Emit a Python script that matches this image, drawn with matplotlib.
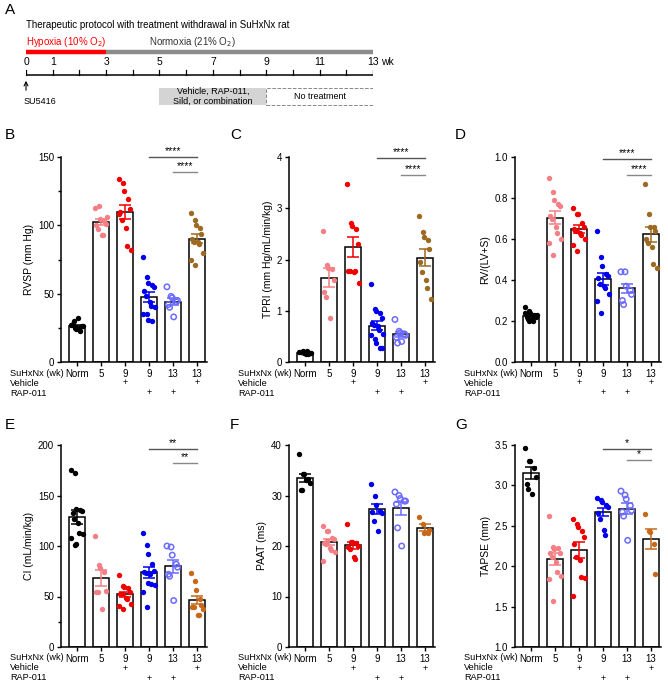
import numpy as np
import matplotlib
matplotlib.use("Agg")
import matplotlib.pyplot as plt
from matplotlib.patches import Rectangle
from matplotlib.transforms import blended_transform_factory, offset_copy

plt.rcParams["font.family"] = ["Liberation Sans", "DejaVu Sans"]
plt.rcParams["font.size"] = 7

groups = ["Norm", "5", "9", "9", "13", "13"]
vehicle = ["", "", "+", "", "", "+"]
rap011 = ["", "", "", "+", "+", ""]

rvsp = [
    [27, 25, 24, 23, 26, 28, 30, 32, 24, 26],
    [113, 114, 105, 103, 101, 100, 97, 93, 93, 106],
    [134, 131, 125, 119, 112, 110, 104, 98, 85, 82, 108],
    [77, 62, 58, 56, 55, 52, 48, 44, 41, 40, 35, 35, 31, 30],
    [55, 48, 47, 44, 45, 42, 40, 33],
    [109, 104, 100, 98, 94, 90, 88, 88, 86, 80, 75, 71],
]
tpri = [
    [0.20, 0.22, 0.18, 0.15, 0.17, 0.20, 0.19, 0.16, 0.21, 0.17],
    [2.55, 1.90, 1.83, 1.82, 1.60, 1.36, 1.27, 0.85],
    [3.47, 2.72, 2.65, 2.59, 2.31, 1.78, 1.77, 1.76, 1.77, 1.54],
    [1.53, 1.03, 1.00, 0.96, 0.85, 0.76, 0.72, 0.70, 0.63, 0.55, 0.52, 0.45, 0.38, 0.28, 0.28],
    [0.83, 0.60, 0.57, 0.55, 0.52, 0.48, 0.37, 0.40],
    [2.85, 2.53, 2.44, 2.38, 2.20, 1.95, 1.76, 1.60, 1.44, 1.22],
]
rv_ratio = [
    [0.27, 0.25, 0.24, 0.23, 0.22, 0.22, 0.21, 0.21, 0.20, 0.23, 0.24, 0.20],
    [0.90, 0.83, 0.79, 0.77, 0.76, 0.71, 0.70, 0.66, 0.63, 0.60, 0.58, 0.52],
    [0.75, 0.72, 0.72, 0.68, 0.66, 0.65, 0.64, 0.63, 0.62, 0.60, 0.57, 0.54],
    [0.64, 0.51, 0.47, 0.43, 0.42, 0.41, 0.38, 0.37, 0.36, 0.33, 0.30, 0.24],
    [0.44, 0.44, 0.37, 0.35, 0.33, 0.30, 0.28],
    [0.87, 0.72, 0.66, 0.66, 0.64, 0.60, 0.58, 0.56, 0.48, 0.46],
]
ci = [
    [175, 172, 137, 136, 135, 133, 127, 123, 113, 112, 108, 101, 102],
    [110, 81, 78, 74, 55, 54, 54, 38],
    [71, 60, 59, 58, 54, 52, 52, 49, 48, 43, 41, 38],
    [113, 101, 92, 82, 75, 74, 73, 72, 62, 61, 54, 40, 63],
    [100, 99, 91, 82, 79, 72, 70, 46],
    [73, 65, 56, 48, 42, 40, 40, 32, 32, 38],
]
paat = [
    [38.2, 34.3, 34.3, 33.3, 32.4, 31.1, 31.1, 33.0],
    [24.0, 22.9, 22.9, 21.6, 21.3, 20.6, 20.4, 19.6, 19.2, 18.8, 17.0, 21.0],
    [24.4, 20.8, 20.7, 20.6, 20.0, 19.8, 19.5, 17.9, 17.5],
    [32.2, 30.0, 28.2, 27.0, 26.5, 26.8, 25.0, 22.9],
    [30.7, 30.0, 29.4, 28.9, 28.9, 28.3, 23.6, 20.0],
    [25.8, 24.3, 22.6, 22.5, 23.1],
]
tapse = [
    [3.46, 3.30, 3.30, 3.21, 3.10, 3.02, 2.95, 2.89],
    [2.62, 2.24, 2.21, 2.23, 2.16, 2.16, 2.12, 2.05, 1.93, 1.88, 1.84, 1.57],
    [2.59, 2.52, 2.48, 2.44, 2.36, 2.28, 2.12, 2.08, 1.87, 1.85, 1.63],
    [2.84, 2.82, 2.80, 2.76, 2.73, 2.66, 2.58, 2.45, 2.39],
    [2.93, 2.88, 2.83, 2.75, 2.69, 2.67, 2.62, 2.32],
    [2.64, 2.44, 2.42, 2.27, 1.90],
]

colors_top = ["black", "#f47f84", "#f00000", "#0000ee", "#6b6bff", "#9c6a22"]
colors_bot = ["black", "#f47f84", "#f00000", "#0000ee", "#6b6bff", "#c8681a"]

fig = plt.figure(figsize=(6.68, 6.92), dpi=100)

# ---- panel A: timeline (y data = 115 - pixel row)
axA = fig.add_axes([26 / 668, 1 - 115 / 692, 347 / 668, 100 / 692])
axA.set_xlim(0, 13)
axA.set_ylim(0, 100)
axA.axis("off")
axA.text(0, 90, "Therapeutic protocol with treatment withdrawal in SuHxNx rat", fontsize=7, va="center")
axA.text(0, 73, "Hypoxia (10% O$_2$)", color="red", fontsize=7, va="center")
axA.text(4.6, 73, "Normoxia (21% O$_2$)", color="#333333", fontsize=7, va="center")
axA.plot([0, 3], [63, 63], color="red", lw=3.2, solid_capstyle="butt")
axA.plot([3, 13], [63, 63], color="#8c8c8c", lw=3.2, solid_capstyle="butt")
axA.plot([0, 13], [40, 40], color="black", lw=1.1)
for wk in range(14):
    axA.plot([wk, wk], [40, 45], color="black", lw=0.9)
for wk in [0, 1, 3, 5, 7, 9, 11, 13]:
    axA.text(wk, 53, str(wk), ha="center", va="center", fontsize=7.5)
axA.text(13.3, 53, "wk", ha="left", va="center", fontsize=7.5)
axA.annotate("", xy=(0, 37), xytext=(0, 22), arrowprops=dict(arrowstyle="->", lw=0.8))
axA.text(-0.1, 14, "SU5416", fontsize=6.5, va="center")
axA.add_patch(Rectangle((5, 10), 4, 17, facecolor="#d4d4d4", edgecolor="none"))
axA.text(7, 18.5, "Vehicle, RAP-011,\nSild, or combination", ha="center", va="center", fontsize=6.5)
axA.add_patch(Rectangle((9, 10), 4, 17, facecolor="none", edgecolor="#888888", ls="--", lw=0.7))
axA.text(11, 18.5, "No treatment", ha="center", va="center", fontsize=6.5)
fig.text(5 / 668, 1 - 10 / 692, "A", fontsize=11, va="center")


def jitter(n):
    offs = []
    for i in range(n):
        k = (i % 5) - 2
        offs.append(k * 0.11 + (0.03 if i % 2 else -0.03))
    return np.array(offs)


def bar_panel(rect, data, cols, ylim, yticks, minor, ylabel, sig, letter, lpos):
    ax = fig.add_axes(rect)
    x = np.arange(len(data))
    means = [np.mean(d) for d in data]
    sems = [np.std(d, ddof=1) / np.sqrt(len(d)) for d in data]
    ax.bar(x, np.array(means) - ylim[0], bottom=ylim[0], width=0.66, facecolor="white",
           edgecolor="black", lw=1.1, zorder=1)
    for i, d in enumerate(data):
        xs = x[i] + jitter(len(d))
        if i == 4:
            ax.scatter(xs, d, s=15, facecolors="none", edgecolors=cols[i], lw=1.1, zorder=3)
        else:
            ax.scatter(xs, d, s=15, color=cols[i], lw=0, zorder=3)
        ax.errorbar(x[i], means[i], yerr=sems[i], color=cols[i], capsize=4, lw=1.1,
                    capthick=1.1, zorder=4)
    ax.set_xlim(-0.67, 5.42)
    ax.set_ylim(*ylim)
    ax.set_yticks(yticks)
    ax.set_yticks(minor, minor=True)
    ax.set_xticks(x)
    ax.set_xticklabels(groups)
    ax.tick_params(axis="both", length=3, width=1, pad=2, labelsize=7)
    ax.tick_params(axis="y", which="minor", length=2.5, width=1)
    for s in ["top", "right"]:
        ax.spines[s].set_visible(False)
    for s in ["left", "bottom"]:
        ax.spines[s].set_linewidth(1.1)
    ax.set_ylabel(ylabel, fontsize=7.5, labelpad=3)
    tr = blended_transform_factory(ax.transData, ax.transAxes)
    trl = ax.transAxes
    for txt, dy in [("SuHxNx (wk)", -11), ("Vehicle", -21), ("RAP-011", -31)]:
        ax.text(-0.35, 0, txt, transform=offset_copy(trl, fig=fig, y=dy, units="dots"),
                ha="left", va="center", fontsize=6.6)
    for i in range(len(x)):
        if vehicle[i]:
            ax.text(x[i], 0, vehicle[i], transform=offset_copy(tr, fig=fig, y=-21, units="dots"),
                    ha="center", va="center", fontsize=6.5)
        if rap011[i]:
            ax.text(x[i], 0, rap011[i], transform=offset_copy(tr, fig=fig, y=-31, units="dots"),
                    ha="center", va="center", fontsize=6.5)
    stars, y1, y2 = sig
    if stars:
        ax.plot([3, 5], [y1, y1], color="#555555", lw=1, clip_on=False)
        ax.plot([4, 5], [y2, y2], color="#888888", lw=1, clip_on=False)
        dy = (ylim[1] - ylim[0]) * 0.005
        ax.text(4, y1 + dy, stars, ha="center", va="bottom", fontsize=7.5)
        ax.text(4.5, y2 + dy, stars, ha="center", va="bottom", fontsize=7.5)
    fig.text(lpos[0] / 668, 1 - lpos[1] / 692, letter, fontsize=11, va="center")
    return ax


top_b, top_h = 1 - 362 / 692, 205 / 692
bot_b, bot_h = 1 - 647 / 692, 202 / 692
w = 146 / 668

bar_panel([61 / 668, top_b, w, top_h], rvsp, colors_top, (0, 150), [0, 50, 100, 150],
          [25, 75, 125], "RVSP (mm Hg)", ("****", 150, 139), "B", (5, 135))
bar_panel([289 / 668, top_b, w, top_h], tpri, colors_top, (0, 4), [0, 1, 2, 3, 4],
          [], "TPRI (mm Hg/mL/min/kg)", ("****", 3.98, 3.65), "C", (230, 135))
bar_panel([515 / 668, top_b, w, top_h], rv_ratio, colors_top, (0, 1.0),
          [0, 0.2, 0.4, 0.6, 0.8, 1.0], [], "RV/(LV+S)", ("****", 0.99, 0.91), "D", (455, 135))
bar_panel([61 / 668, bot_b, w, bot_h], ci, colors_bot, (0, 200), [0, 50, 100, 150, 200],
          [25], "CI (mL/min/kg)", ("**", 196, 182), "E", (5, 425))
bar_panel([289 / 668, bot_b, w, bot_h], paat, colors_bot, (0, 40), [0, 10, 20, 30, 40],
          [], "PAAT (ms)", ("", 0, 0), "F", (230, 425))
bar_panel([515 / 668, bot_b, w, bot_h], tapse, colors_bot, (1.0, 3.5),
          [1.0, 1.5, 2.0, 2.5, 3.0, 3.5], [], "TAPSE (mm)", ("*", 3.45, 3.31), "G", (455, 425))

fig.savefig("out.png", dpi=100)
